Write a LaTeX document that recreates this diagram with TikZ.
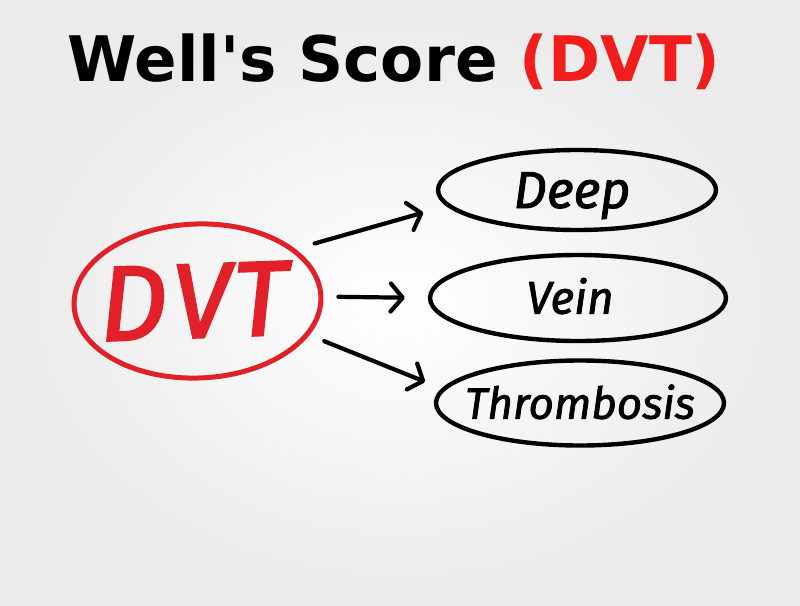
\documentclass[tikz,border=0pt]{standalone}
\usepackage{fontspec}
\usetikzlibrary{shapes.geometric,arrows.meta}
\newfontfamily\titlefont{DejaVu Sans}
\newfontfamily\hand{Fira Sans}[FakeBold=1.6]
\newfontfamily\handred{Fira Sans}[FakeBold=2.2]
\definecolor{dvtred}{HTML}{E2202A}
\definecolor{titlered}{HTML}{F21D1D}
\begin{document}
\begin{tikzpicture}[x=1pt,y=-1pt,
  oval/.style={ellipse,draw=black,line width=4.4pt,inner xsep=-40pt,inner ysep=0pt,
    font=\hand\itshape\fontsize{46}{46}\selectfont,text height=31.5pt,text depth=0pt},
  redoval/.style={ellipse,draw=dvtred,line width=5pt,inner xsep=-30pt,inner ysep=0pt,text=dvtred,
    font=\handred\itshape\fontsize{106}{106}\selectfont,text height=73pt,text depth=0pt},
  hand arrow/.style={line width=4.2pt,line cap=round,
    -{Straight Barb[length=12pt,width=28pt,line width=4.2pt,round]}}]
\useasboundingbox (0,0) rectangle (800,605);
\shade[inner color=white,outer color=gray!16] (0,0) rectangle (800,605);
\node[anchor=base,font=\titlefont\bfseries\fontsize{62.8}{62.8}\selectfont] (title) at (394,81)
  {Well's Score \textcolor{titlered}{(DVT)}};
\node[redoval,minimum width=247pt,minimum height=154pt,rotate=2] (dvt) at (197.5,301) {\kern-8pt D\kern5pt V\kern3pt T};
\node[oval,minimum width=278pt,minimum height=80pt,font=\hand\itshape\fontsize{52}{52}\selectfont,text height=36pt] (deep) at (577,190) {\kern-10pt Deep};
\node[oval,minimum width=296pt,minimum height=86pt] (vein) at (578,298) {\kern-16pt Vein};
\node[oval,minimum width=288pt,minimum height=85pt] (thromb) at (580,403) {\fontsize{44}{44}\selectfont Thrombosis};
\draw[hand arrow,shorten <=20pt,shorten >=24pt] (dvt.26) -- (deep.187);
\draw[hand arrow,shorten <=15pt,shorten >=23pt] (dvt.east) -- (vein.west);
\draw[hand arrow,shorten <=16pt,shorten >=18pt] (dvt.-19) -- (thromb.174.5);
\end{tikzpicture}
\end{document}
